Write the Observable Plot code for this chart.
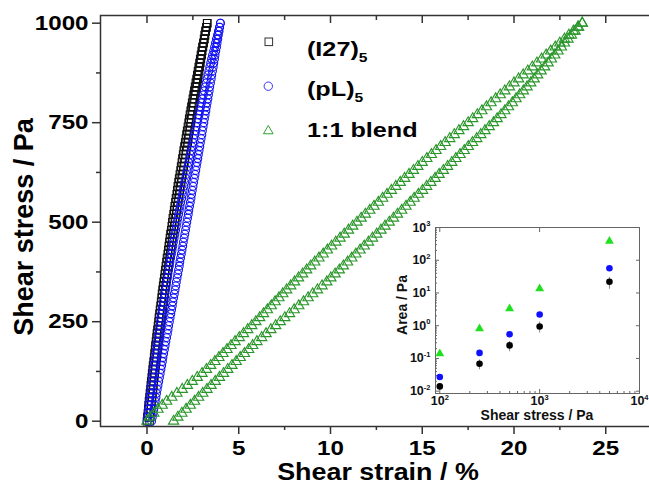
<!DOCTYPE html>
<html>
<head>
<meta charset="utf-8">
<script src="https://cdn.jsdelivr.net/npm/d3@7"></script>
<script src="https://cdn.jsdelivr.net/npm/@observablehq/plot@0.6"></script>
<style>
html,body{margin:0;padding:0;background:#fff;}
#chart{position:relative;width:649px;height:486px;overflow:hidden;background:#fff;}
#chart > svg{position:absolute;left:0;top:0;}
</style>
</head>
<body>
<div id="chart"></div>
<script>
// ---------- main chart: stress sweep (Pa) ----------
const stress = [0,10,20,30,40,50,60,70,80,90,
100,110,120,130,140,150,160,170,180,190,
200,210,220,230,240,250,260,270,280,290,
300,310,320,330,340,350,360,370,380,390,
400,410,420,430,440,450,460,470,480,490,
500,510,520,530,540,550,560,570,580,590,
600,610,620,630,640,650,660,670,680,690,
700,710,720,730,740,750,760,770,780,790,
800,810,820,830,840,850,860,870,880,890,
900,910,920,930,940,950,960,970,980,990,
1000];

// strain (%) for (I27)5
const i27Loading = [0.00,0.02,0.05,0.07,0.09,0.11,0.14,0.16,0.19,0.21,
0.23,0.26,0.28,0.31,0.33,0.36,0.39,0.41,0.44,0.46,
0.49,0.52,0.54,0.57,0.60,0.63,0.65,0.68,0.71,0.74,
0.77,0.80,0.82,0.85,0.88,0.91,0.94,0.97,1.00,1.03,
1.06,1.09,1.13,1.16,1.19,1.22,1.25,1.28,1.32,1.35,
1.38,1.41,1.45,1.48,1.51,1.55,1.58,1.62,1.65,1.68,
1.72,1.75,1.79,1.83,1.86,1.90,1.93,1.97,2.00,2.04,
2.08,2.12,2.15,2.19,2.23,2.27,2.30,2.34,2.38,2.42,
2.46,2.50,2.54,2.58,2.62,2.66,2.70,2.74,2.78,2.82,
2.86,2.90,2.94,2.98,3.02,3.07,3.11,3.15,3.19,3.24,
3.28];
const i27Unloading = [0.14,0.16,0.19,0.21,0.23,0.25,0.28,0.30,0.33,0.35,
0.37,0.40,0.42,0.45,0.47,0.50,0.53,0.55,0.58,0.60,
0.63,0.66,0.68,0.71,0.74,0.77,0.79,0.82,0.85,0.88,
0.91,0.94,0.96,0.99,1.02,1.05,1.08,1.11,1.14,1.17,
1.20,1.23,1.27,1.30,1.33,1.36,1.39,1.42,1.46,1.49,
1.52,1.55,1.59,1.62,1.65,1.69,1.72,1.76,1.79,1.82,
1.86,1.89,1.93,1.97,2.00,2.04,2.07,2.11,2.14,2.18,
2.22,2.25,2.28,2.32,2.35,2.39,2.41,2.45,2.48,2.52,
2.55,2.59,2.62,2.66,2.70,2.73,2.77,2.80,2.84,2.87,
2.91,2.94,2.98,3.01,3.05,3.09,3.13,3.16,3.20,3.24,
3.28];

// strain (%) for (pL)5
const pLLoading = [0.00,0.03,0.05,0.08,0.10,0.13,0.16,0.19,0.21,0.24,
0.27,0.30,0.33,0.36,0.39,0.42,0.45,0.48,0.51,0.54,
0.57,0.60,0.63,0.67,0.70,0.73,0.76,0.80,0.83,0.86,
0.90,0.93,0.97,1.00,1.04,1.07,1.11,1.14,1.18,1.22,
1.25,1.29,1.33,1.37,1.41,1.44,1.48,1.52,1.56,1.60,
1.64,1.68,1.72,1.76,1.80,1.84,1.89,1.93,1.97,2.01,
2.05,2.10,2.14,2.18,2.23,2.27,2.32,2.36,2.41,2.45,
2.50,2.54,2.59,2.64,2.68,2.73,2.78,2.83,2.87,2.92,
2.97,3.02,3.07,3.12,3.17,3.22,3.27,3.32,3.37,3.42,
3.47,3.52,3.57,3.63,3.68,3.73,3.78,3.84,3.89,3.95,
4.00];
const pLUnloading = [0.25,0.29,0.33,0.37,0.41,0.45,0.49,0.52,0.56,0.60,
0.64,0.68,0.72,0.76,0.80,0.84,0.87,0.91,0.95,0.99,
1.03,1.07,1.11,1.15,1.18,1.22,1.26,1.30,1.34,1.38,
1.41,1.45,1.49,1.53,1.57,1.60,1.64,1.68,1.72,1.76,
1.79,1.83,1.87,1.91,1.95,1.98,2.02,2.06,2.10,2.13,
2.17,2.21,2.25,2.28,2.32,2.36,2.40,2.43,2.47,2.51,
2.54,2.58,2.62,2.66,2.69,2.73,2.77,2.80,2.84,2.88,
2.91,2.95,2.99,3.02,3.06,3.10,3.13,3.17,3.21,3.24,
3.28,3.32,3.35,3.39,3.42,3.46,3.50,3.53,3.57,3.61,
3.64,3.68,3.71,3.75,3.79,3.82,3.86,3.89,3.93,3.96,
4.00];

// strain (%) for 1:1 blend
const blendLoading = [0.00,0.15,0.37,0.60,0.83,1.07,1.35,1.63,1.92,2.20,
2.47,2.74,3.00,3.24,3.47,3.70,3.92,4.14,4.36,4.58,
4.80,5.03,5.26,5.49,5.71,5.93,6.14,6.35,6.56,6.77,
6.98,7.19,7.40,7.61,7.83,8.04,8.26,8.48,8.70,8.92,
9.14,9.37,9.60,9.83,10.06,10.29,10.52,10.75,10.98,11.21,
11.44,11.67,11.90,12.14,12.37,12.61,12.84,13.08,13.32,13.56,
13.80,14.04,14.28,14.52,14.76,15.00,15.25,15.50,15.75,16.00,
16.25,16.50,16.75,17.00,17.25,17.50,17.75,18.00,18.25,18.50,
18.75,19.00,19.25,19.50,19.75,20.00,20.25,20.50,20.75,21.00,
21.25,21.50,21.75,22.00,22.25,22.50,22.75,22.99,23.24,23.48,
23.72];
const blendUnloading = [1.45,1.68,1.90,2.13,2.36,2.59,2.81,3.04,3.27,3.49,
3.72,3.95,4.17,4.40,4.63,4.86,5.08,5.31,5.54,5.76,
5.99,6.25,6.49,6.75,7.01,7.26,7.51,7.77,8.02,8.27,
8.53,8.78,9.03,9.29,9.54,9.80,10.02,10.25,10.48,10.70,
10.93,11.16,11.38,11.61,11.84,12.07,12.29,12.52,12.75,12.97,
13.20,13.43,13.65,13.88,14.11,14.34,14.56,14.79,15.02,15.24,
15.47,15.70,15.92,16.15,16.38,16.61,16.83,17.06,17.29,17.51,
17.74,17.97,18.19,18.42,18.65,18.88,19.08,19.29,19.50,19.70,
19.91,20.11,20.31,20.51,20.71,20.91,21.10,21.29,21.48,21.67,
21.86,22.04,22.22,22.40,22.58,22.75,22.94,23.13,23.33,23.52,
23.72];

const xMajor = [0,5,10,15,20,25];
const xTickLabels = ["0","5","10","15","20","25"];
const xMinor = [2.5,7.5,12.5,17.5,22.5];
const yMajor = [0,250,500,750,1000];
const yTickLabels = ["0","250","500","750","1000"];
const yMinor = [125,375,625,875];

// ---------- inset: area vs shear stress ----------
const insetStress = [100,250,500,1000,5000];
const areaI27 = [0.014,0.069,0.25,0.95,22];
const areaI27Low = [0.011,0.045,0.16,0.60,13];
const areaI27High = [0.017,0.090,0.33,1.30,30];
const areaPL = [0.027,0.148,0.55,2.2,57];
const areaBlend = [0.14,0.81,3.3,13.6,380];
const insetXTicks = [100,1000,10000];
const insetXTickLabels = ["10^2","10^3","10^4"];
const insetXMinor = [200,300,400,500,600,700,800,900,2000,3000,4000,5000,6000,7000,8000,9000];
const insetYTicks = [0.01,0.1,1,10,100,1000];
const insetYTickLabels = ["10^-2","10^-1","10^0","10^1","10^2","10^3"];
const insetYMinor = [0.02,0.03,0.04,0.05,0.06,0.07,0.08,0.09,0.2,0.3,0.4,0.5,0.6,0.7,0.8,0.9,2,3,4,5,6,7,8,9,20,30,40,50,60,70,80,90,200,300,400,500,600,700,800,900];

const seriesNames = ["(I27)", "(pL)", "1:1 blend"];
const seriesSubs = ["5", "5", ""];

// ---------- build tables ----------
const FONT = "'Liberation Sans', Arial, Helvetica, sans-serif";
function table(branches) {
  const out = [];
  branches.forEach(arr => arr.forEach((v, i) => out.push({strain: v, stress: stress[i]})));
  return out;
}
const rowsI27 = table([i27Loading, i27Unloading]);
const rowsPL = table([pLLoading, pLUnloading]);
const rowsBlend = table([blendLoading, blendUnloading]);

const insetRows = insetStress.map((s, i) => ({s, i27: areaI27[i], lo: areaI27Low[i], hi: areaI27High[i], pl: areaPL[i], blend: areaBlend[i]}));

const C_BLACK = "#111", C_BLUE = "#1212f5", C_GREEN = "#2a962a";
const AX = "#333";

const main = Plot.plot({
  width: 649, height: 486,
  marginLeft: 100, marginRight: 0, marginTop: 15, marginBottom: 60,
  style: {fontFamily: FONT, fontSize: "21px", fontWeight: "bold", background: "none", color: "#000"},
  x: {domain: [-2.534, 27.384]},
  y: {domain: [-13.3, 1019.3]},
  marks: [
    Plot.frame({stroke: AX, strokeWidth: 1.5, insetRight: -4}),
    Plot.axisX(xMajor, {anchor: "bottom", tickSize: 8, tickPadding: 6, stroke: AX, strokeWidth: 1.5, label: null, tickFormat: d => xTickLabels[xMajor.indexOf(d)]}),
    Plot.axisX(xMinor, {anchor: "bottom", tickSize: 4, fill: "none", stroke: AX, strokeWidth: 1.5, label: null}),
    Plot.axisX(xMajor, {anchor: "top", tickSize: -7, fill: "none", stroke: AX, strokeWidth: 1.5, label: null}),
    Plot.axisX(xMinor, {anchor: "top", tickSize: -4, fill: "none", stroke: AX, strokeWidth: 1.5, label: null}),
    Plot.axisY(yMajor, {anchor: "left", tickSize: 8, tickPadding: 4, stroke: AX, strokeWidth: 1.5, label: null, tickFormat: d => yTickLabels[yMajor.indexOf(d)]}),
    Plot.axisY(yMinor, {anchor: "left", tickSize: 4, fill: "none", stroke: AX, strokeWidth: 1.5, label: null}),
    Plot.dot(rowsI27, {x: "strain", y: "stress", symbol: "square", r: 4.2, stroke: C_BLACK, strokeWidth: 1.1, fill: "none"}),
    Plot.dot(rowsPL, {x: "strain", y: "stress", symbol: "circle", r: 3.9, stroke: C_BLUE, strokeWidth: 1.1, fill: "none"}),
    Plot.dot(rowsBlend, {x: "strain", y: "stress", symbol: "triangle", r: 3.8, stroke: C_GREEN, strokeWidth: 1.15, fill: "none"})
  ]
});

const inset = Plot.plot({
  width: 254, height: 215,
  marginLeft: 40, marginRight: 10, marginTop: 12, marginBottom: 37,
  style: {fontFamily: FONT, fontSize: "12.5px", fontWeight: "bold", background: "none", color: "#111", overflow: "visible"},
  x: {type: "log", domain: [90.6, 10000]},
  y: {type: "log", domain: [0.0085, 1000]},
  marks: [
    Plot.frame({fill: "white", stroke: "#666", strokeWidth: 1}),
    Plot.axisX(insetXTicks, {anchor: "bottom", tickSize: 0, tickPadding: 3, label: null, tickFormat: d => insetXTickLabels[insetXTicks.indexOf(d)]}),
    Plot.axisX(insetXTicks, {anchor: "bottom", tickSize: -4, fill: "none", stroke: "#666", label: null}),
    Plot.axisX(insetXMinor, {anchor: "bottom", tickSize: -2, fill: "none", stroke: "#666", label: null}),
    Plot.axisX(insetXTicks, {anchor: "top", tickSize: -4, fill: "none", stroke: "#666", label: null}),
    Plot.axisY(insetYTicks, {anchor: "left", tickSize: 0, tickPadding: 5, label: null, tickFormat: d => insetYTickLabels[insetYTicks.indexOf(d)]}),
    Plot.axisY(insetYTicks, {anchor: "left", tickSize: -4, fill: "none", stroke: "#666", label: null}),
    Plot.axisY(insetYMinor, {anchor: "left", tickSize: -2, fill: "none", stroke: "#666", label: null}),
    Plot.axisY(insetYTicks, {anchor: "right", tickSize: -4, fill: "none", stroke: "#666", label: null}),
    Plot.ruleX(insetRows, {x: "s", y1: "lo", y2: "hi", stroke: "#888", strokeWidth: 1}),
    Plot.dot(insetRows, {x: "s", y: "i27", r: 3.3, fill: "#000"}),
    Plot.dot(insetRows, {x: "s", y: "pl", r: 3.3, fill: "#1010ff"}),
    Plot.dot(insetRows, {x: "s", y: "blend", symbol: "triangle", r: 3.3, fill: "#1ee01e"})
  ]
});

const chart = document.getElementById("chart");
chart.append(main);
inset.style.left = "395px";
inset.style.top = "215px";
inset.style.overflow = "visible";
chart.append(inset);

// axis titles
const ms = d3.select(main);
ms.append("text").attr("transform", "translate(33,227) rotate(-90)").attr("text-anchor", "middle")
  .attr("font-family", FONT).attr("font-weight", "bold").attr("font-size", 27).attr("fill", "#000")
  .text("Shear stress / Pa");
const xTitle = ms.append("text").attr("x", 378).attr("y", 480.5).attr("text-anchor", "middle")
  .attr("font-family", FONT).attr("font-weight", "bold").attr("font-size", 24).attr("fill", "#000")
  .text("Shear strain / %");

const is = d3.select(inset);
is.append("text").attr("transform", "translate(12,90) rotate(-90)").attr("text-anchor", "middle")
  .attr("font-family", FONT).attr("font-weight", "bold").attr("font-size", 14).attr("fill", "#111")
  .text("Area / Pa");
is.append("text").attr("x", 142).attr("y", 205).attr("text-anchor", "middle")
  .attr("font-family", FONT).attr("font-weight", "bold").attr("font-size", 14).attr("fill", "#111")
  .text("Shear stress / Pa");

// superscripts in inset tick labels
is.selectAll("text").each(function () {
  const m = /^(\d+)\^(-?\d+)$/.exec(this.textContent);
  if (!m) return;
  this.textContent = m[1];
  const ts = document.createElementNS("http://www.w3.org/2000/svg", "tspan");
  ts.setAttribute("dy", "-0.75em");
  ts.setAttribute("font-size", "0.6em");
  ts.textContent = m[2];
  this.appendChild(ts);
});

// horizontal stretch helper (reference glyphs are wide)
function stretch(nodes, k) {
  nodes.forEach(t => {
    const b = t.getBBox();
    const a = getComputedStyle(t).textAnchor;
    const ax = a === "end" ? b.x + b.width : a === "middle" ? b.x + b.width / 2 : b.x;
    const tr = t.getAttribute("transform") || "";
    t.setAttribute("transform", `${tr} translate(${ax},0) scale(${k},1) translate(${-ax},0)`);
  });
}
stretch(ms.selectAll('g[aria-label="x-axis tick label"] text, g[aria-label="y-axis tick label"] text').nodes(), 1.15);
stretch([xTitle.node()], 1.12);

// legend
const leg = d3.create("svg").attr("width", 649).attr("height", 486).style("pointer-events", "none");
const legMarkY = [41.8, 86.2, 130.5];
const legTextY = [56, 96.5, 137];
const legColors = ["#333", "#3333ff", "#33a033"];
const lg = leg.append("g").attr("fill", "none").attr("stroke-width", 1);
lg.append("rect").attr("x", 265).attr("y", legMarkY[0] - 3.8).attr("width", 7.6).attr("height", 7.6).attr("stroke", legColors[0]);
lg.append("circle").attr("cx", 268.3).attr("cy", legMarkY[1]).attr("r", 4.2).attr("stroke", legColors[1]);
lg.append("path").attr("d", d3.symbol(d3.symbolTriangle, 40)()).attr("transform", `translate(268.3,${legMarkY[2] + 0.5})`).attr("stroke", legColors[2]);
seriesNames.forEach((name, i) => {
  const t = leg.append("text").attr("x", 307).attr("y", legTextY[i])
    .attr("font-family", FONT).attr("font-weight", "bold").attr("font-size", 21).attr("fill", "#000");
  t.append("tspan").text(name);
  if (seriesSubs[i]) t.append("tspan").attr("font-size", 13).attr("dy", 6).text(seriesSubs[i]);
});
chart.append(leg.node());
stretch(leg.selectAll("text").nodes(), 1.2);
</script>
</body>
</html>
